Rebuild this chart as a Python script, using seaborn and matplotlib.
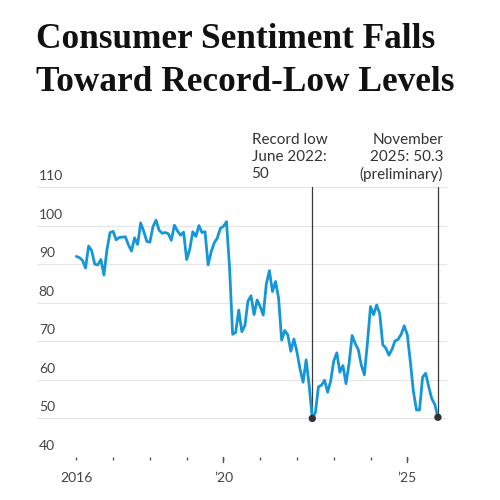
import matplotlib
matplotlib.use("Agg")
import matplotlib.pyplot as plt
import seaborn as sns
import numpy as np
import pandas as pd

# monthly index, Jan 2016 - Nov 2025
years = [2016, 2017, 2018, 2019, 2020, 2021, 2022, 2023, 2024, 2025]
sentiment = [
    92.0, 91.7, 91.0, 89.0, 94.7, 93.5, 90.0, 89.8, 91.2, 87.2, 93.8, 98.2,
    98.5, 96.3, 96.9, 97.0, 97.1, 95.0, 93.4, 96.8, 95.1, 100.7, 98.5, 95.9,
    95.7, 99.7, 101.4, 98.8, 98.0, 98.2, 97.9, 96.2, 100.1, 98.6, 97.5, 98.3,
    91.2, 93.8, 98.4, 97.2, 100.0, 98.2, 98.4, 89.8, 93.2, 95.5, 96.8, 99.3,
    99.8, 101.0, 89.1, 71.8, 72.3, 78.1, 72.5, 74.1, 80.4, 81.8, 76.9, 80.7,
    79.0, 76.8, 84.9, 88.3, 82.9, 85.5, 81.2, 70.3, 72.8, 71.7, 67.4, 70.6,
    67.2, 62.8, 59.4, 65.2, 58.4, 50.0, 51.5, 58.2, 58.6, 59.9, 56.8, 59.7,
    64.9, 67.0, 62.0, 63.7, 59.0, 64.2, 71.5, 69.4, 67.9, 63.8, 61.3, 69.7,
    79.0, 76.9, 79.4, 77.2, 69.1, 68.2, 66.4, 67.9, 70.1, 70.5, 71.8, 74.0,
    71.7, 64.7, 57.0, 52.2, 52.2, 60.7, 61.7, 58.2, 55.1, 53.6, 50.3,
]
yticks = [40, 50, 60, 70, 80, 90, 100, 110]
xtick_labels = ["2016", "", "", "", "\u201920", "", "", "", "", "\u201925"]

df = pd.DataFrame({
    "t": 2016 + np.arange(len(sentiment)) / 12,
    "value": sentiment,
})
lows = df.iloc[[77, len(df) - 1]]   # June 2022 and Nov 2025

sns.set_style("white")
plt.rcParams["font.family"] = ["Lato", "DejaVu Sans"]

fig = plt.figure(figsize=(5, 5), dpi=100)
ax = fig.add_axes([0.074, 0.086, 0.82, 0.54])

for y in yticks:
    ax.axhline(y, color="#e6e6e6", lw=0.8, zorder=0)

for _, r in lows.iterrows():
    ax.plot([r.t, r.t], [r.value, 110], color="#3a3a3a", lw=0.9, zorder=1)

sns.lineplot(data=df, x="t", y="value", color="#1596d6", lw=2.0, ax=ax, zorder=2)
sns.scatterplot(data=lows, x="t", y="value", color="#333333", s=28,
                edgecolor="none", ax=ax, zorder=3, clip_on=False)

ax.set_xlim(2014.93, 2026.08)
ax.set_ylim(40, 110)
ax.set_xlabel("")
ax.set_ylabel("")
for s in ax.spines.values():
    s.set_visible(False)

ax.set_yticks(yticks)
ax.set_yticklabels([])
ax.tick_params(axis="y", left=False, length=0)
for y in yticks:
    ax.text(2014.98, y + 1.3, str(y), fontsize=10, color="#444444",
            ha="left", va="bottom")

ax.set_xticks(years)
ax.set_xticklabels([])
ax.tick_params(axis="x", bottom=True, length=2.5, width=1.0, color="#555555",
               direction="out", pad=2)
for yr, lab in zip(years, xtick_labels):
    if lab:
        ax.text(yr, 36.2, lab, fontsize=10, color="#444444", ha="center", va="top")
    if lab.startswith("\u2019"):
        ax.plot([yr, yr], [40, 38.6], color="#555555", lw=1.0, clip_on=False)

fig.text(0.503, 0.733, "Record low\nJune 2022:\n50", fontsize=11, color="#333333",
         ha="left", va="top", linespacing=1.25)
fig.text(0.886, 0.733, "November\n2025: 50.3\n(preliminary)", fontsize=11,
         color="#333333", ha="right", va="top", linespacing=1.25, multialignment="right")

fig.text(0.073, 0.905, "Consumer Sentiment Falls", fontsize=25.4, fontweight="bold",
         family="Liberation Serif", color="#111111", ha="left", va="baseline")
fig.text(0.073, 0.818, "Toward Record-Low Levels", fontsize=25.4, fontweight="bold",
         family="Liberation Serif", color="#111111", ha="left", va="baseline")

fig.savefig("out.png", dpi=100, facecolor="white")
